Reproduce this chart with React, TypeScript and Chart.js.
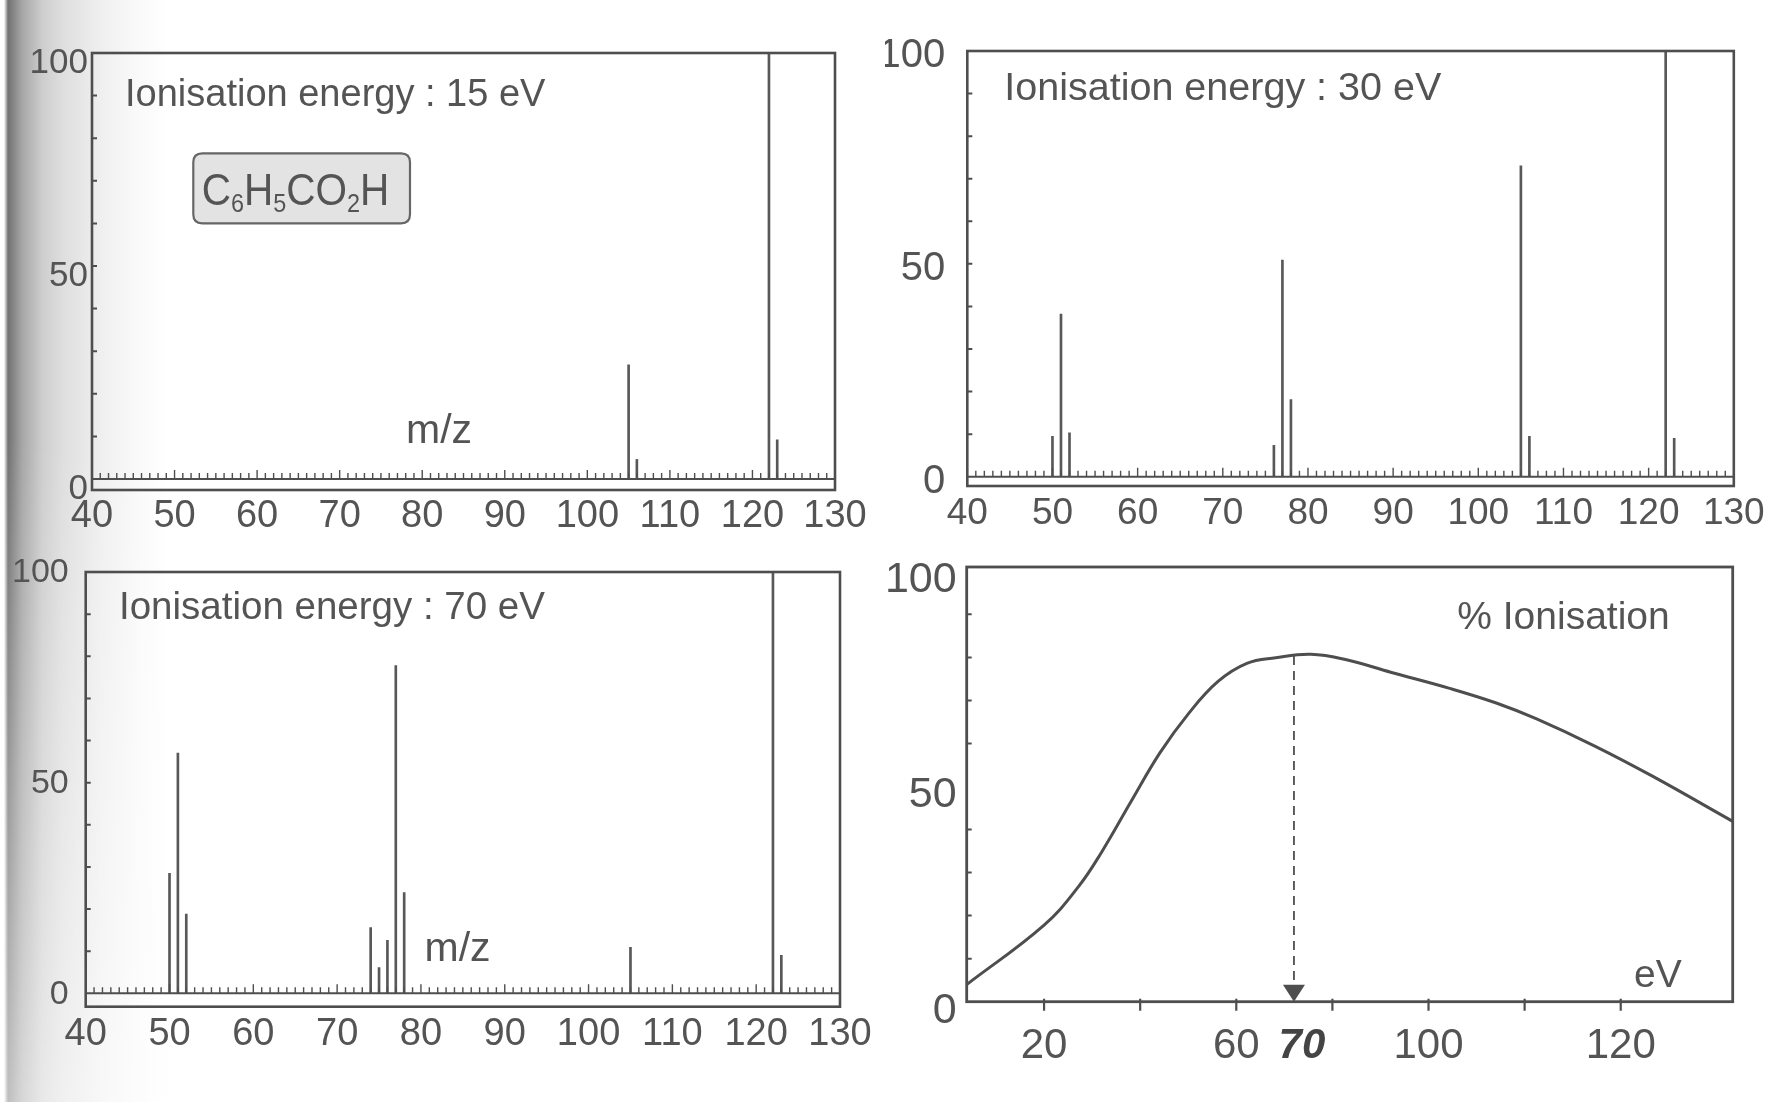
import React, { useEffect, useRef } from "react";
import { Chart, registerables } from "chart.js";

Chart.register(...registerables);

// ---------- data ----------
const mzTickValues = [40, 50, 60, 70, 80, 90, 100, 110, 120, 130];
const intensityTickValues = [0, 50, 100];

// Ionisation energy 15 eV
const mz15 = [105, 106, 122, 123];
const int15 = [26.8, 4.6, 100, 9.2];

// Ionisation energy 30 eV
const mz30 = [50, 51, 52, 76, 77, 78, 105, 106, 122, 123];
const int30 = [9.5, 38.2, 10.3, 7.4, 50.9, 18.1, 73.0, 9.5, 100, 9.0];

// Ionisation energy 70 eV
const mz70 = [50, 51, 52, 74, 75, 76, 77, 78, 105, 122, 123];
const int70 = [28.5, 57.0, 18.8, 15.6, 6.1, 12.6, 77.8, 23.9, 10.9, 100, 9.0];

// % ionisation curve
const energyEV = [3.9, 20, 27.2, 32, 38.1, 44.1, 50.1, 56.2, 62.2, 68.2, 75.5, 82.7, 92.3, 104.4, 114.1, 122.5, 134.6, 146.6, 163.3];
const ionisationPct = [4.0, 17.8, 26.8, 34.8, 46.5, 57.8, 67.0, 74.4, 78.6, 79.9, 80.7, 79.5, 76.5, 72.8, 69.4, 65.7, 59.4, 52.4, 41.9];
const eVTickValues = [20, 40, 60, 80, 100, 120, 140];
const eVTickLabels = ["20", "", "60", "", "100", "", "120"];
const markedEV = 72;
const markedLabel = "70";

const titles = ["Ionisation energy : 15 eV", "Ionisation energy : 30 eV", "Ionisation energy : 70 eV"];

// ---------- styles ----------
const FONT = "'Liberation Sans', Arial, Helvetica, sans-serif";
const INK = "#4e4e4e";
const TEXT = "#545454";

type SpecPanel = {
  yMin: number;
  padTop: number;
  padRight: number;
  yAxisW: number;
  xAxisH: number;
  xFont: number;
  yFont: number;
  xPad: number;
  yPad: number;
  yLabelOffset: number;
  title: string;
  titleDx: number;
  titleDy: number;
  titleSize: number;
  mz?: { dx: number; dy: number };
  formula?: boolean;
};

function drawFormula(ctx: CanvasRenderingContext2D, bx: number, by: number) {
  const w = 216.7, h = 70, r = 9;
  ctx.save();
  ctx.beginPath();
  ctx.moveTo(bx + r, by);
  ctx.lineTo(bx + w - r, by);
  ctx.quadraticCurveTo(bx + w, by, bx + w, by + r);
  ctx.lineTo(bx + w, by + h - r);
  ctx.quadraticCurveTo(bx + w, by + h, bx + w - r, by + h);
  ctx.lineTo(bx + r, by + h);
  ctx.quadraticCurveTo(bx, by + h, bx, by + h - r);
  ctx.lineTo(bx, by + r);
  ctx.quadraticCurveTo(bx, by, bx + r, by);
  ctx.closePath();
  ctx.fillStyle = "#e3e3e3";
  ctx.fill();
  ctx.lineWidth = 2.2;
  ctx.strokeStyle = "#666";
  ctx.stroke();

  const parts: [string, boolean][] = [["C", false], ["6", true], ["H", false], ["5", true], ["CO", false], ["2", true], ["H", false]];
  ctx.translate(bx + 8.4, by + 51.7);
  ctx.scale(0.9, 1);
  ctx.fillStyle = TEXT;
  ctx.textBaseline = "alphabetic";
  ctx.textAlign = "left";
  let cx = 0;
  for (const [t, sub] of parts) {
    ctx.font = sub ? `26px ${FONT}` : `45px ${FONT}`;
    ctx.fillText(t, cx, sub ? 7 : 0);
    cx += ctx.measureText(t).width;
  }
  ctx.restore();
}

function spectrumPlugin(p: SpecPanel) {
  return {
    id: "spectrumFrame",
    afterDatasetsDraw(chart: any) {
      const { ctx, chartArea: a, scales } = chart;
      const x = scales.x, y = scales.y;
      const y0 = y.getPixelForValue(0);
      ctx.save();
      ctx.strokeStyle = INK;
      ctx.lineCap = "butt";
      // minor m/z ticks on the zero line
      ctx.lineWidth = 1.4;
      ctx.beginPath();
      for (let m = x.min + 1; m < x.max; m++) {
        const px = x.getPixelForValue(m);
        const h = m % 10 === 0 ? 9 : 6;
        ctx.moveTo(px, y0);
        ctx.lineTo(px, y0 - h);
      }
      ctx.stroke();
      // zero line
      ctx.lineWidth = 2;
      ctx.beginPath();
      ctx.moveTo(a.left, y0);
      ctx.lineTo(a.right, y0);
      ctx.stroke();
      // left minor ticks
      ctx.lineWidth = 2;
      ctx.beginPath();
      for (let v = 10; v < 100; v += 10) {
        const py = y.getPixelForValue(v);
        ctx.moveTo(a.left, py);
        ctx.lineTo(a.left + 5, py);
      }
      ctx.stroke();
      // frame
      ctx.lineWidth = 2.6;
      ctx.strokeRect(a.left, a.top, a.right - a.left, a.bottom - a.top);

      // texts
      ctx.fillStyle = TEXT;
      ctx.textAlign = "left";
      ctx.textBaseline = "alphabetic";
      ctx.font = `${p.titleSize}px ${FONT}`;
      ctx.fillText(p.title, a.left + p.titleDx, a.top + p.titleDy);
      if (p.mz) {
        ctx.font = `41px ${FONT}`;
        ctx.textAlign = "center";
        ctx.textBaseline = "middle";
        ctx.fillText("m/z", a.left + p.mz.dx, a.top + p.mz.dy);
      }
      if (p.formula) drawFormula(ctx, a.left + 101.3, a.top + 100.3);
      ctx.restore();
    },
  };
}

function spectrumConfig(mz: number[], intensity: number[], p: SpecPanel): any {
  return {
    type: "bar",
    data: {
      datasets: [
        {
          data: mz.map((v, i) => ({ x: v, y: intensity[i] })),
          backgroundColor: "#585858",
          borderWidth: 0,
          barThickness: 2,
        },
      ],
    },
    options: {
      animation: false,
      responsive: false,
      devicePixelRatio: 1,
      layout: { padding: { top: p.padTop, right: p.padRight, left: 0, bottom: 0 } },
      plugins: { legend: { display: false }, tooltip: { enabled: false }, title: { display: false } },
      scales: {
        x: {
          type: "linear",
          min: mzTickValues[0],
          max: mzTickValues[mzTickValues.length - 1],
          offset: false,
          grid: { display: false, drawTicks: false },
          border: { display: false },
          afterBuildTicks: (s: any) => {
            s.ticks = mzTickValues.map((v) => ({ value: v }));
          },
          afterFit: (s: any) => {
            s.height = p.xAxisH;
          },
          ticks: {
            font: { family: FONT, size: p.xFont },
            color: TEXT,
            padding: p.xPad,
            maxRotation: 0,
            minRotation: 0,
            autoSkip: false,
            callback: (v: number) => String(v),
          },
        },
        y: {
          type: "linear",
          min: p.yMin,
          max: 100,
          grid: { display: false, drawTicks: false },
          border: { display: false },
          afterBuildTicks: (s: any) => {
            s.ticks = intensityTickValues.map((v) => ({ value: v }));
          },
          afterFit: (s: any) => {
            s.width = p.yAxisW;
          },
          ticks: {
            font: { family: FONT, size: p.yFont },
            color: TEXT,
            padding: p.yPad,
            labelOffset: p.yLabelOffset,
            callback: (v: number) => String(v),
          },
        },
      },
    },
    plugins: [spectrumPlugin(p)],
  };
}

function curveValueAt(e: number) {
  for (let i = 0; i < energyEV.length - 1; i++) {
    if (e >= energyEV[i] && e <= energyEV[i + 1]) {
      const t = (e - energyEV[i]) / (energyEV[i + 1] - energyEV[i]);
      return ionisationPct[i] + t * (ionisationPct[i + 1] - ionisationPct[i]);
    }
  }
  return 0;
}

function ionisationConfig(padTop: number): any {
  const plugin = {
    id: "ionFrame",
    afterDatasetsDraw(chart: any) {
      const { ctx, chartArea: a, scales } = chart;
      const x = scales.x, y = scales.y;
      ctx.save();
      ctx.strokeStyle = INK;
      // x tick marks
      ctx.lineWidth = 2.2;
      ctx.beginPath();
      for (const v of eVTickValues) {
        const px = x.getPixelForValue(v);
        ctx.moveTo(px, a.bottom - 3);
        ctx.lineTo(px, a.bottom + 9);
      }
      ctx.stroke();
      // left minor ticks
      ctx.lineWidth = 2;
      ctx.beginPath();
      for (let v = 10; v < 100; v += 10) {
        if (v === 50) continue;
        const py = y.getPixelForValue(v);
        ctx.moveTo(a.left, py);
        ctx.lineTo(a.left + 5, py);
      }
      ctx.stroke();
      // frame
      ctx.lineWidth = 2.8;
      ctx.strokeRect(a.left, a.top, a.right - a.left, a.bottom - a.top);

      // dashed arrow
      const px = x.getPixelForValue(markedEV);
      const pyTop = y.getPixelForValue(curveValueAt(markedEV));
      const headH = 17, headW = 11;
      ctx.lineWidth = 1.8;
      ctx.setLineDash([9, 6]);
      ctx.beginPath();
      ctx.moveTo(px, pyTop);
      ctx.lineTo(px, a.bottom - headH);
      ctx.stroke();
      ctx.setLineDash([]);
      ctx.fillStyle = INK;
      ctx.beginPath();
      ctx.moveTo(px - headW, a.bottom - headH);
      ctx.lineTo(px + headW, a.bottom - headH);
      ctx.lineTo(px, a.bottom);
      ctx.closePath();
      ctx.fill();

      // marked label
      ctx.fillStyle = "#444";
      ctx.font = `italic bold 42px ${FONT}`;
      ctx.textAlign = "center";
      ctx.textBaseline = "middle";
      ctx.fillText(markedLabel, px + 8, a.bottom + 20 + 25.2);

      // annotations
      ctx.fillStyle = TEXT;
      ctx.font = `39px ${FONT}`;
      ctx.textAlign = "right";
      ctx.textBaseline = "alphabetic";
      ctx.fillText("% Ionisation", a.right - 63, a.top + 62);
      ctx.fillText("eV", a.right - 51, a.bottom - 15);
      ctx.restore();
    },
  };
  return {
    type: "line",
    data: {
      datasets: [
        {
          data: energyEV.map((v, i) => ({ x: v, y: ionisationPct[i] })),
          borderColor: INK,
          borderWidth: 3,
          pointRadius: 0,
          tension: 0.4,
          fill: false,
        },
      ],
    },
    options: {
      animation: false,
      responsive: false,
      devicePixelRatio: 1,
      layout: { padding: { top: padTop, right: 46.3, left: 0, bottom: 0 } },
      plugins: { legend: { display: false }, tooltip: { enabled: false }, title: { display: false } },
      scales: {
        x: {
          type: "linear",
          min: energyEV[0],
          max: energyEV[energyEV.length - 1],
          grid: { display: false, drawTicks: false },
          border: { display: false },
          afterBuildTicks: (s: any) => {
            s.ticks = eVTickValues.map((v) => ({ value: v }));
          },
          afterFit: (s: any) => {
            s.height = 100.3;
          },
          ticks: {
            font: { family: FONT, size: 42 },
            color: TEXT,
            padding: 20,
            maxRotation: 0,
            minRotation: 0,
            autoSkip: false,
            callback: (v: number) => {
              const i = eVTickValues.indexOf(v);
              return i >= 0 ? eVTickLabels[i] : "";
            },
          },
        },
        y: {
          type: "linear",
          min: 0,
          max: 101,
          grid: { display: false, drawTicks: false },
          border: { display: false },
          afterBuildTicks: (s: any) => {
            s.ticks = intensityTickValues.map((v) => ({ value: v }));
          },
          afterFit: (s: any) => {
            s.width = 81.7;
          },
          ticks: {
            font: { family: FONT, size: 43 },
            color: TEXT,
            padding: 10,
            labelOffset: 9,
            callback: (v: number) => String(v),
          },
        },
      },
    },
    plugins: [plugin],
  };
}

// canvas placement (full-size pixels)
const TOP_ROW_Y = 0;
const P3_CANVAS_Y = 530;
const P4_CANVAS_Y = 520;

const panel15: SpecPanel = {
  yMin: -2.58, padTop: 53 - TOP_ROW_Y, padRight: 50, yAxisW: 92, xAxisH: 61,
  xFont: 38, yFont: 35, xPad: 3.9, yPad: 4, yLabelOffset: 10,
  title: titles[0], titleDx: 33, titleDy: 52.5, titleSize: 38,
  mz: { dx: 347, dy: 379 }, formula: true,
};
const panel30: SpecPanel = {
  yMin: -2.18, padTop: 51 - TOP_ROW_Y, padRight: 45.2, yAxisW: 82.3, xAxisH: 65,
  xFont: 37, yFont: 40, xPad: 5.3, yPad: 22, yLabelOffset: 5,
  title: titles[1], titleDx: 37, titleDy: 48.5, titleSize: 39.5,
};
const panel70: SpecPanel = {
  yMin: -3.18, padTop: 572 - P3_CANVAS_Y, padRight: 45, yAxisW: 85.7, xAxisH: 95.3,
  xFont: 38, yFont: 34, xPad: 5.5, yPad: 17, yLabelOffset: 1,
  title: titles[2], titleDx: 33.3, titleDy: 47, titleSize: 38.5,
  mz: { dx: 371.8, dy: 378 },
};

export default function App() {
  const r1 = useRef<HTMLCanvasElement>(null);
  const r2 = useRef<HTMLCanvasElement>(null);
  const r3 = useRef<HTMLCanvasElement>(null);
  const r4 = useRef<HTMLCanvasElement>(null);

  useEffect(() => {
    const charts = [
      new Chart(r1.current as HTMLCanvasElement, spectrumConfig(mz15, int15, panel15)),
      new Chart(r2.current as HTMLCanvasElement, spectrumConfig(mz30, int30, panel30)),
      new Chart(r3.current as HTMLCanvasElement, spectrumConfig(mz70, int70, panel70)),
      new Chart(r4.current as HTMLCanvasElement, ionisationConfig(567 - P4_CANVAS_Y)),
    ];
    return () => charts.forEach((c) => c.destroy());
  }, []);

  const cv = (left: number, top: number, w: number, h: number): React.CSSProperties => ({
    position: "absolute", left, top, width: w, height: h, display: "block",
  });

  return (
    <div
      style={{
        position: "fixed",
        left: 0,
        top: 0,
        width: 1779,
        height: 1102,
        overflow: "hidden",
        background:
          "linear-gradient(to bottom, rgba(255,255,255,0) 0%, rgba(255,255,255,0) 40%, rgba(255,255,255,0.55) 100%), " +
          "linear-gradient(to right, #ffffff 0px, #ffffff 4px, #727272 8px, #a6a6a6 22px, #cdcdcd 42px, #dedede 62px, #efefef 100px, #fafafa 140px, #ffffff 170px)",
      }}
    >
      <canvas ref={r1} width={885} height={551} style={cv(0, TOP_ROW_Y, 885, 551)} />
      <canvas ref={r2} width={894} height={551} style={cv(885, TOP_ROW_Y, 894, 551)} />
      <canvas ref={r3} width={885} height={1102 - P3_CANVAS_Y} style={cv(0, P3_CANVAS_Y, 885, 1102 - P3_CANVAS_Y)} />
      <canvas ref={r4} width={894} height={1102 - P4_CANVAS_Y} style={cv(885, P4_CANVAS_Y, 894, 1102 - P4_CANVAS_Y)} />
    </div>
  );
}
